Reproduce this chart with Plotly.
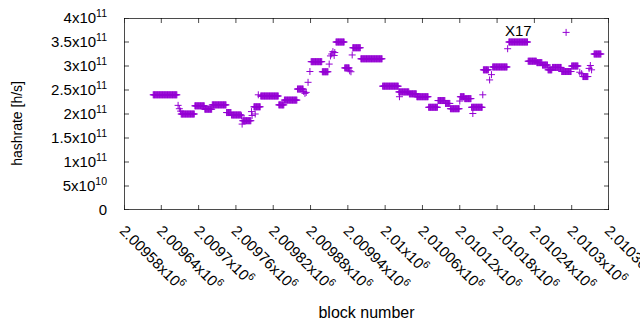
import plotly.graph_objects as go

# Runs of consecutive blocks sharing one hashrate value
run_start = [2009627, 2009667, 2009669, 2009671, 2009672, 2009694, 2009710, 2009722, 2009745, 2009753,
             2009769, 2009770, 2009771, 2009785, 2009786, 2009789, 2009791, 2009796, 2009800, 2009829,
             2009838, 2009859, 2009869, 2009871, 2009873, 2009876, 2009879, 2009881, 2009899, 2009910,
             2009912, 2009914, 2009916, 2009918, 2009919, 2009921, 2009935, 2009943, 2009945, 2009947,
             2009948, 2009961, 2009996, 2010022, 2010023, 2010039, 2010051, 2010070, 2010085, 2010097,
             2010105, 2010120, 2010121, 2010128, 2010139, 2010141, 2010157, 2010158, 2010168, 2010171,
             2010173, 2010197, 2010199, 2010230, 2010244, 2010253, 2010262, 2010269, 2010284, 2010291,
             2010300, 2010313, 2010316, 2010318, 2010328, 2010330, 2010332, 2010336]
run_end = [2009665, 2009667, 2009669, 2009671, 2009693, 2009709, 2009721, 2009744, 2009752, 2009768,
           2009769, 2009770, 2009784, 2009785, 2009786, 2009799, 2009791, 2009796, 2009828, 2009837,
           2009858, 2009868, 2009869, 2009871, 2009873, 2009876, 2009879, 2009898, 2009908, 2009910,
           2009912, 2009914, 2009916, 2009918, 2009919, 2009934, 2009942, 2009943, 2009945, 2009947,
           2009960, 2009995, 2010021, 2010038, 2010023, 2010050, 2010069, 2010084, 2010096, 2010104,
           2010119, 2010120, 2010127, 2010138, 2010156, 2010141, 2010157, 2010166, 2010168, 2010171,
           2010196, 2010197, 2010229, 2010243, 2010252, 2010261, 2010268, 2010283, 2010299, 2010291,
           2010310, 2010313, 2010316, 2010326, 2010328, 2010330, 2010332, 2010347]
run_hashrate = [2.40e11, 2.18e11, 2.11e11, 2.06e11, 2.00e11, 2.17e11, 2.10e11, 2.19e11, 2.03e11, 1.98e11,
                1.96e11, 1.79e11, 1.86e11, 2.05e11, 1.97e11, 2.15e11, 2.00e11, 2.40e11, 2.375e11, 2.19e11,
                2.29e11, 2.52e11, 2.47e11, 2.43e11, 2.45e11, 2.66e11, 2.885e11, 3.09e11, 2.88e11, 3.04e11,
                3.21e11, 3.25e11, 3.30e11, 3.22e11, 3.28e11, 3.50e11, 2.96e11, 2.90e11, 2.88e11, 3.23e11,
                3.38e11, 3.15e11, 2.58e11, 2.46e11, 2.36e11, 2.42e11, 2.36e11, 2.14e11, 2.28e11, 2.22e11,
                2.11e11, 2.27e11, 2.36e11, 2.32e11, 2.14e11, 2.01e11, 2.40e11, 2.92e11, 2.71e11, 2.82e11,
                2.98e11, 3.36e11, 3.50e11, 3.10e11, 3.07e11, 3.02e11, 2.92e11, 2.97e11, 2.885e11, 3.70e11,
                3.00e11, 2.87e11, 2.84e11, 2.78e11, 2.95e11, 3.01e11, 2.92e11, 3.25e11]

x_tick_vals = [2009580, 2009640, 2009700, 2009760, 2009820, 2009880, 2009940, 2010000,
               2010060, 2010120, 2010180, 2010240, 2010300, 2010360]
x_tick_text = ["2.00958x10<sup>6</sup>", "2.00964x10<sup>6</sup>", "2.0097x10<sup>6</sup>",
               "2.00976x10<sup>6</sup>", "2.00982x10<sup>6</sup>", "2.00988x10<sup>6</sup>",
               "2.00994x10<sup>6</sup>", "2.01x10<sup>6</sup>", "2.01006x10<sup>6</sup>",
               "2.01012x10<sup>6</sup>", "2.01018x10<sup>6</sup>", "2.01024x10<sup>6</sup>",
               "2.0103x10<sup>6</sup>", "2.01036x10<sup>6</sup>"]
y_tick_vals = [0, 5e10, 1e11, 1.5e11, 2e11, 2.5e11, 3e11, 3.5e11, 4e11]
y_tick_text = ["0", "5x10<sup>10</sup>", "1x10<sup>11</sup>", "1.5x10<sup>11</sup>",
               "2x10<sup>11</sup>", "2.5x10<sup>11</sup>", "3x10<sup>11</sup>",
               "3.5x10<sup>11</sup>", "4x10<sup>11</sup>"]
x_range = [2009580, 2010360]
y_range = [0, 4e11]

label_text = "X17"
label_block = 2010215
label_value = 3.74e11

blocks, rates = [], []
for s, e, v in zip(run_start, run_end, run_hashrate):
    for b in range(s, e + 1):
        blocks.append(b)
        rates.append(v)

color = "#9400D3"
font = "Liberation Sans, Arial, sans-serif"
plot_w, plot_h, tick_px = 485.0, 192.0, 5.0

fig = go.Figure()
fig.add_trace(go.Scatter(
    x=blocks, y=rates, mode="markers",
    marker=dict(symbol="cross-thin", size=5, color=color,
                line=dict(color=color, width=1)),
    showlegend=False, hoverinfo="skip"))

# gnuplot-style border with inward ticks, drawn as line-shaped markers that are
# centred on the plot edges and clipped to the plot area (only the inner half shows)
x0, x1 = x_range
y0, y1 = y_range
xm, ym = (x0 + x1) / 2, (y0 + y1) / 2
fx, fy, fsym, fsize, fwidth = [], [], [], [], []
for (px, py, sym, sz) in [(xm, y0, "line-ew", plot_w / 1.4 + 10), (xm, y1, "line-ew", plot_w / 1.4 + 10),
                          (x0, ym, "line-ns", plot_h / 1.4 + 10), (x1, ym, "line-ns", plot_h / 1.4 + 10)]:
    fx.append(px); fy.append(py); fsym.append(sym); fsize.append(sz); fwidth.append(2)
tick_size = 2 * tick_px / 1.4
for v in x_tick_vals:
    for edge in (y0, y1):
        fx.append(v); fy.append(edge); fsym.append("line-ns"); fsize.append(tick_size); fwidth.append(1)
for v in y_tick_vals:
    for edge in (x0, x1):
        fx.append(edge); fy.append(v); fsym.append("line-ew"); fsize.append(tick_size); fwidth.append(1)
fig.add_trace(go.Scatter(x=fx, y=fy, mode="markers", cliponaxis=True,
                         marker=dict(symbol=fsym, size=fsize, color="black",
                                     line=dict(color="black", width=fwidth)),
                         showlegend=False, hoverinfo="skip"))

fig.add_annotation(x=label_block, y=label_value, text=label_text, showarrow=False,
                   font=dict(family=font, size=15, color="black"))
fig.add_annotation(text="hashrate [h/s]", textangle=-90, showarrow=False,
                   xref="paper", yref="paper", x=-0.221, y=0.453,
                   xanchor="center", yanchor="middle",
                   font=dict(family=font, size=14, color="black"))

fig.update_layout(
    width=640, height=330, margin=dict(l=124, r=31, t=18, b=120),
    plot_bgcolor="white", paper_bgcolor="white",
    xaxis=dict(range=x_range, tickvals=x_tick_vals, ticktext=x_tick_text, tickangle=45,
               tickfont=dict(family=font, size=15, color="black"),
               ticks="outside", ticklen=5, tickcolor="rgba(0,0,0,0)",
               ticklabeloverflow="allow",
               showline=False, showgrid=False, zeroline=False, automargin=False,
               title=dict(text="block number", font=dict(family=font, size=16, color="black"),
                          standoff=14)),
    yaxis=dict(range=y_range, tickvals=y_tick_vals, ticktext=y_tick_text,
               tickfont=dict(family=font, size=15, color="black"),
               ticks="outside", ticklen=13, tickcolor="rgba(0,0,0,0)",
               showline=False, showgrid=False, zeroline=False, automargin=False),
)

fig.write_html("out.html", post_script="document.body.style.margin='0';",
               config={"displayModeBar": False})
